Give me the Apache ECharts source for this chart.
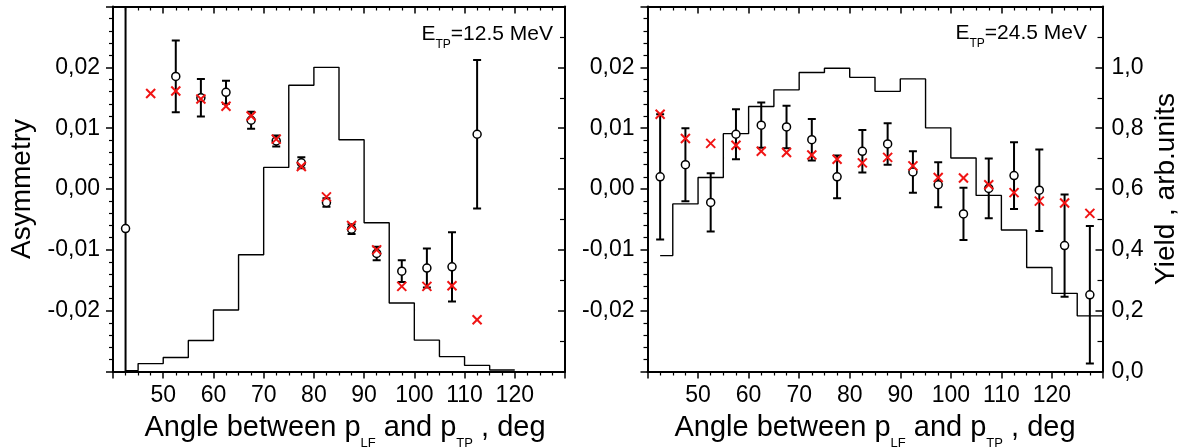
<!DOCTYPE html>
<html>
<head>
<meta charset="utf-8">
<title>Asymmetry and yield vs angle</title>
<script src="https://cdn.jsdelivr.net/npm/echarts@6/dist/echarts.min.js"></script>
<style>
  html, body { margin: 0; padding: 0; background: #fff; }
  #chart { width: 1188px; height: 448px; }
</style>
</head>
<body>
<div id="chart"></div>
<script>
// ---- E_TP = 12.5 MeV ----
const lowAngles = [42.5, 47.5, 52.5, 57.5, 62.5, 67.5, 72.5, 77.5, 82.5, 87.5, 92.5, 97.5, 102.5, 107.5, 112.5];
const lowMeasured = [-0.0065, null, 0.0185, 0.0150, 0.0159, 0.0113, 0.0079, 0.0043, -0.0022, -0.0066, -0.0106, -0.0135, -0.0130, -0.0128, 0.0090];
const lowErrors = [0.05, null, 0.0059, 0.0031, 0.0019, 0.0014, 0.0009, 0.0009, 0.0007, 0.0008, 0.0011, 0.0018, 0.0032, 0.0057, 0.0122];
const lowCalc = [null, 0.0157, 0.0161, 0.0148, 0.0136, 0.0120, 0.0082, 0.0037, -0.0013, -0.0060, -0.0100, -0.0160, -0.0160, -0.0159, -0.0215];
const lowYieldEdges = [42.5, 45, 50, 55, 60, 65, 70, 75, 80, 85, 90, 95, 100, 105, 110, 115, 120];
const lowYield = [0.003, 0.026, 0.046, 0.102, 0.202, 0.384, 0.671, 0.941, 1.0, 0.762, 0.489, 0.225, 0.103, 0.049, 0.020, 0.005];

// ---- E_TP = 24.5 MeV ----
const highAngles = [42.5, 47.5, 52.5, 57.5, 62.5, 67.5, 72.5, 77.5, 82.5, 87.5, 92.5, 97.5, 102.5, 107.5, 112.5, 117.5, 122.5, 127.5];
const highMeasured = [0.0020, 0.0040, -0.0022, 0.0090, 0.0105, 0.0102, 0.0081, 0.0020, 0.0062, 0.0074, 0.0028, 0.0007, -0.0041, 0.0001, 0.0022, -0.0002, -0.0093, -0.0174];
const highErrors = [0.0103, 0.0060, 0.0048, 0.0041, 0.0037, 0.0035, 0.0034, 0.0035, 0.0035, 0.0034, 0.0034, 0.0037, 0.0043, 0.0049, 0.0055, 0.0067, 0.0084, 0.0113];
const highCalc = [0.0123, 0.0083, 0.0075, 0.0072, 0.0062, 0.0060, 0.0056, 0.0049, 0.0043, 0.0052, 0.0038, 0.0019, 0.0018, 0.0007, -0.0006, -0.0020, -0.0023, -0.0040];
const highYieldEdges = [42.5, 45, 50, 55, 60, 65, 70, 75, 80, 85, 90, 95, 100, 105, 110, 115, 120, 125, 130];
const highYield = [0.381, 0.551, 0.638, 0.782, 0.871, 0.926, 0.983, 0.997, 0.967, 0.921, 0.962, 0.801, 0.702, 0.579, 0.465, 0.342, 0.257, 0.183];

// ---- axis ticks ----
const angleTicks = { min: 40, max: 130, step: 10 };
const asymTicks = { min: -0.03, max: 0.03, step: 0.01 };
const yieldTicks = { min: 0, max: 1.2, step: 0.2 };

const FONT = "'Liberation Sans', Arial, Helvetica, sans-serif";
const INK = '#000';
const CROSS = '#f01414';

function fmtAngle(v) {
  return (v <= angleTicks.min || v >= angleTicks.max) ? '' : String(Math.round(v));
}
function fmtAsym(v) {
  if (Math.abs(v) > 0.025) return '';
  const r = Math.round(v * 100) / 100;
  return (r === 0 ? '0.00' : r.toFixed(2)).replace('.', ',');
}
function fmtYield(v) {
  if (v > 1.1) return '';
  return v.toFixed(1).replace('.', ',');
}

function pairs(xs, ys) {
  const out = [];
  xs.forEach((x, i) => { if (ys[i] !== null) out.push([x, ys[i]]); });
  return out;
}
function triples(xs, ys, es) {
  const out = [];
  xs.forEach((x, i) => { if (ys[i] !== null && es[i] !== null) out.push([x, ys[i], es[i]]); });
  return out;
}
function stepPoints(edges, vals) {
  return edges.map((e, i) => [e, vals[Math.min(i, vals.length - 1)]]);
}

function renderErrorBar(params, api) {
  const x = api.value(0), y = api.value(1), e = api.value(2);
  const hi = api.coord([x, y + e]);
  const lo = api.coord([x, y - e]);
  const cap = 4;
  const style = { stroke: INK, lineWidth: 2 };
  return {
    type: 'group',
    children: [
      { type: 'line', shape: { x1: hi[0], y1: hi[1], x2: lo[0], y2: lo[1] }, style },
      { type: 'line', shape: { x1: hi[0] - cap, y1: hi[1], x2: hi[0] + cap, y2: hi[1] }, style },
      { type: 'line', shape: { x1: lo[0] - cap, y1: lo[1], x2: lo[0] + cap, y2: lo[1] }, style }
    ]
  };
}

function renderCross(params, api) {
  const p = api.coord([api.value(0), api.value(1)]);
  const s = 4.5;
  const style = { stroke: CROSS, lineWidth: 2 };
  return {
    type: 'group',
    children: [
      { type: 'line', shape: { x1: p[0] - s, y1: p[1] - s, x2: p[0] + s, y2: p[1] + s }, style },
      { type: 'line', shape: { x1: p[0] - s, y1: p[1] + s, x2: p[0] + s, y2: p[1] - s }, style }
    ]
  };
}

const tickLabel = { color: INK, fontFamily: FONT, fontSize: 23, lineHeight: 23 };
const frameLine = { show: true, onZero: false, lineStyle: { color: INK, width: 2 } };

// subscripts: the main text sits in the middle of a tall line, the small text at its bottom
function xTitle(shift) {
  return {
    name: '{m|Angle between p}{s|LF}{m| and p}{s|TP}{m| , deg}',
    nameLocation: 'middle',
    nameGap: 35,
    nameTextStyle: {
      padding: [0, 0, 0, shift],
      rich: {
        m: { fontFamily: FONT, fontSize: 29, lineHeight: 43, color: INK, verticalAlign: 'middle' },
        s: { fontFamily: FONT, fontSize: 13, lineHeight: 13, color: INK, verticalAlign: 'bottom' }
      }
    }
  };
}

const panels = [
  { grid: { left: 113, top: 6.5, width: 452, height: 365 },
    angles: lowAngles, measured: lowMeasured, errors: lowErrors, calc: lowCalc,
    edges: lowYieldEdges, yieldVals: lowYield, asymTitle: true, yieldLabels: false, titleShift: 12 },
  { grid: { left: 647.5, top: 6.5, width: 455, height: 365 },
    angles: highAngles, measured: highMeasured, errors: highErrors, calc: highCalc,
    edges: highYieldEdges, yieldVals: highYield, asymTitle: false, yieldLabels: true, titleShift: 0 }
];

const option = { animation: false, backgroundColor: '#fff', grid: [], xAxis: [], yAxis: [], series: [] };

panels.forEach((p, i) => {
  option.grid.push(Object.assign({ containLabel: false, outerBoundsMode: 'none' }, p.grid));
  const xb = option.xAxis.length;
  option.xAxis.push(Object.assign({
    type: 'value', gridIndex: i, position: 'bottom',
    min: angleTicks.min, max: angleTicks.max, interval: angleTicks.step,
    axisLine: frameLine,
    axisTick: { show: true, inside: false, length: 7, lineStyle: { color: INK, width: 1.5 } },
    minorTick: { show: true, splitNumber: 4, length: 4, lineStyle: { color: INK, width: 1.2 } },
    axisLabel: Object.assign({ margin: 13, formatter: fmtAngle, showMinLabel: false, showMaxLabel: false }, tickLabel),
    splitLine: { show: false }
  }, xTitle(p.titleShift)));
  option.xAxis.push({
    type: 'value', gridIndex: i, position: 'top',
    min: angleTicks.min, max: angleTicks.max, interval: angleTicks.step,
    axisLine: frameLine,
    axisTick: { show: true, inside: true, length: 7, lineStyle: { color: INK, width: 1.5 } },
    minorTick: { show: true, splitNumber: 4, length: 4, lineStyle: { color: INK, width: 1.2 } },
    axisLabel: { show: false },
    splitLine: { show: false }
  });
  const ya = option.yAxis.length;
  option.yAxis.push({
    type: 'value', gridIndex: i, position: 'left',
    min: asymTicks.min, max: asymTicks.max, interval: asymTicks.step,
    axisLine: frameLine,
    axisTick: { show: true, inside: false, length: 7, lineStyle: { color: INK, width: 1.5 } },
    minorTick: { show: true, splitNumber: 5, length: 4, lineStyle: { color: INK, width: 1.2 } },
    axisLabel: Object.assign({ margin: 13, formatter: fmtAsym, showMinLabel: false, showMaxLabel: false }, tickLabel),
    splitLine: { show: false },
    name: p.asymTitle ? 'Asymmetry' : '',
    nameLocation: 'middle', nameRotate: 90, nameGap: 77,
    nameTextStyle: { fontFamily: FONT, fontSize: 28, lineHeight: 28, color: INK }
  });
  const yy = option.yAxis.length;
  option.yAxis.push({
    type: 'value', gridIndex: i, position: 'right',
    min: yieldTicks.min, max: yieldTicks.max, interval: yieldTicks.step,
    axisLine: frameLine,
    axisTick: { show: true, inside: true, length: 7, lineStyle: { color: INK, width: 1.5 } },
    minorTick: { show: true, splitNumber: 2, length: 5, lineStyle: { color: INK, width: 1.2 } },
    axisLabel: Object.assign({ show: p.yieldLabels, margin: 9, formatter: fmtYield, showMaxLabel: false }, tickLabel),
    splitLine: { show: false },
    name: p.yieldLabels ? 'Yield , arb.units' : '',
    nameLocation: 'middle', nameRotate: 90, nameGap: 50,
    nameTextStyle: { fontFamily: FONT, fontSize: 28, lineHeight: 28, color: INK }
  });

  option.series.push({
    type: 'line', xAxisIndex: xb, yAxisIndex: yy, step: 'end',
    data: stepPoints(p.edges, p.yieldVals),
    showSymbol: false, symbol: 'none',
    lineStyle: { color: INK, width: 1.4 }, z: 1, silent: true
  });
  option.series.push({
    type: 'custom', xAxisIndex: xb, yAxisIndex: ya, clip: true,
    renderItem: renderErrorBar, encode: { x: 0, y: 1 },
    data: triples(p.angles, p.measured, p.errors), z: 2, silent: true
  });
  option.series.push({
    type: 'scatter', xAxisIndex: xb, yAxisIndex: ya,
    data: pairs(p.angles, p.measured),
    symbol: 'circle', symbolSize: 8,
    itemStyle: { color: '#fff', borderColor: INK, borderWidth: 1.5, opacity: 1 },
    z: 3, silent: true
  });
  option.series.push({
    type: 'custom', xAxisIndex: xb, yAxisIndex: ya, clip: true,
    renderItem: renderCross, encode: { x: 0, y: 1 },
    data: pairs(p.angles, p.calc), z: 4, silent: true
  });
});

const labelRich = {
  m: { fontFamily: FONT, fontSize: 21, lineHeight: 34, fill: INK, color: INK, verticalAlign: 'middle' },
  s: { fontFamily: FONT, fontSize: 12, lineHeight: 12, fill: INK, color: INK, verticalAlign: 'bottom' }
};
option.graphic = [
  { type: 'text', x: 553, y: 34, z: 10,
    style: { text: '{m|E}{s|TP}{m|=12.5 MeV}', rich: labelRich, align: 'right', verticalAlign: 'middle', fill: INK } },
  { type: 'text', x: 1087, y: 33, z: 10,
    style: { text: '{m|E}{s|TP}{m|=24.5 MeV}', rich: labelRich, align: 'right', verticalAlign: 'middle', fill: INK } }
];

const chart = echarts.init(document.getElementById('chart'), null, { renderer: 'canvas' });
chart.setOption(option);
</script>
</body>
</html>
